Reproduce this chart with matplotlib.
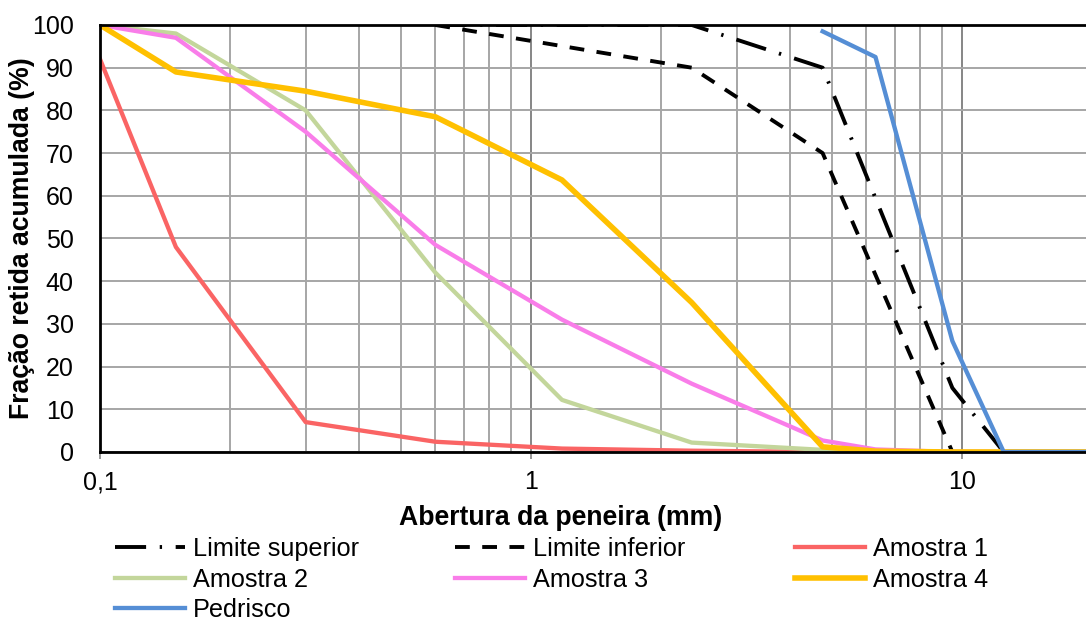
import matplotlib.pyplot as plt
from matplotlib.ticker import FixedLocator, FuncFormatter, NullFormatter

# sieve openings (mm)
limsup_x = [0.6, 2.36, 4.75, 9.5, 12.5]
limsup_y = [100, 100, 90, 15, 0]

liminf_x = [0.6, 2.36, 4.75, 9.5]
liminf_y = [100, 90, 70, 0]

sieves = [0.1, 0.15, 0.3, 0.6, 1.18, 2.36, 4.75, 6.3, 9.5, 12.5, 25]
amostra1 = [92, 48, 7, 2.4, 0.8, 0.3, 0, 0, 0, 0, 0]
amostra2 = [100, 98, 80, 42, 12.2, 2.2, 0.5, 0, 0, 0, 0]
amostra3 = [100, 97, 75, 48.5, 31, 16, 2.7, 0.6, 0, 0, 0]
amostra4 = [100, 89, 84.5, 78.5, 63.7, 35, 1.2, 0.2, 0, 0, 0]

pedrisco_x = [4.75, 6.3, 9.5, 12.5, 25]
pedrisco_y = [98.5, 92.5, 26, 0, 0]

plt.rcParams['font.family'] = ['Liberation Sans', 'DejaVu Sans']

fig = plt.figure(figsize=(10.86, 6.23), dpi=100)
ax = fig.add_axes([0.0921, 0.2745, 0.9079, 0.6854])

ax.plot(limsup_x, limsup_y, color='black', lw=2.8, dashes=(8, 3.5, 0.6, 3.5),
        label='Limite superior')
ax.plot(liminf_x, liminf_y, color='black', lw=2.8, dashes=(3.8, 3.2),
        label='Limite inferior')
ax.plot(sieves, amostra1, color='#FA6464', lw=3.1, label='Amostra 1')
ax.plot(sieves, amostra2, color='#C3D69B', lw=3.1, label='Amostra 2')
ax.plot(sieves, amostra3, color='#F97DE9', lw=3.1, label='Amostra 3')
ax.plot(sieves, amostra4, color='#FFC000', lw=4.0, label='Amostra 4')
ax.plot(pedrisco_x, pedrisco_y, color='#558ED5', lw=3.1, label='Pedrisco')

ax.set_xscale('log')
ax.set_xlim(0.1, 19.4)
ax.set_ylim(0, 100)
ax.set_yticks(range(0, 101, 10))

ax.xaxis.set_major_locator(FixedLocator([0.1, 1, 10]))
ax.xaxis.set_major_formatter(FuncFormatter(lambda v, p: ('%g' % v).replace('.', ',')))
minor = [m * d for d in (0.1, 1, 10) for m in range(2, 10)]
ax.xaxis.set_minor_locator(FixedLocator(minor))
ax.xaxis.set_minor_formatter(NullFormatter())

ax.grid(True, which='major', axis='x', color='#868686', lw=1.4)
ax.grid(True, which='minor', axis='x', color='#A6A6A6', lw=1.4)
ax.grid(True, which='major', axis='y', color='#A6A6A6', lw=1.4)
ax.set_axisbelow(True)

ax.tick_params(axis='x', which='major', length=5, width=1.2, color='#868686',
               labelsize=18, pad=8)
ax.tick_params(axis='x', which='minor', length=0)
ax.tick_params(axis='y', length=0, labelsize=18, pad=19)

for side in ['left', 'bottom', 'top']:
    ax.spines[side].set_linewidth(2)
    ax.spines[side].set_color('black')
ax.spines['right'].set_visible(False)

ax.set_xlabel('Abertura da peneira (mm)', fontsize=19.2, fontweight='bold')
ax.set_ylabel('Fração retida acumulada (%)', fontsize=19.2, fontweight='bold')
ax.xaxis.set_label_coords(0.4675, -0.124)
ax.yaxis.set_label_coords(-0.066, 0.5)

# legend laid out row by row: one legend per column
h, l = ax.get_legend_handles_labels()
columns = [[0, 3, 6], [1, 4], [2, 5]]
col_x = [0.1059, 0.419, 0.732]
for idx, x0 in zip(columns, col_x):
    leg = fig.legend([h[i] for i in idx], [l[i] for i in idx],
                     loc='upper left', bbox_to_anchor=(x0, 0.1375), frameon=False,
                     fontsize=18.2, handlelength=2.76, handletextpad=0.32,
                     labelspacing=0.25, borderpad=0, borderaxespad=0)

fig.savefig('out.png', dpi=100)
